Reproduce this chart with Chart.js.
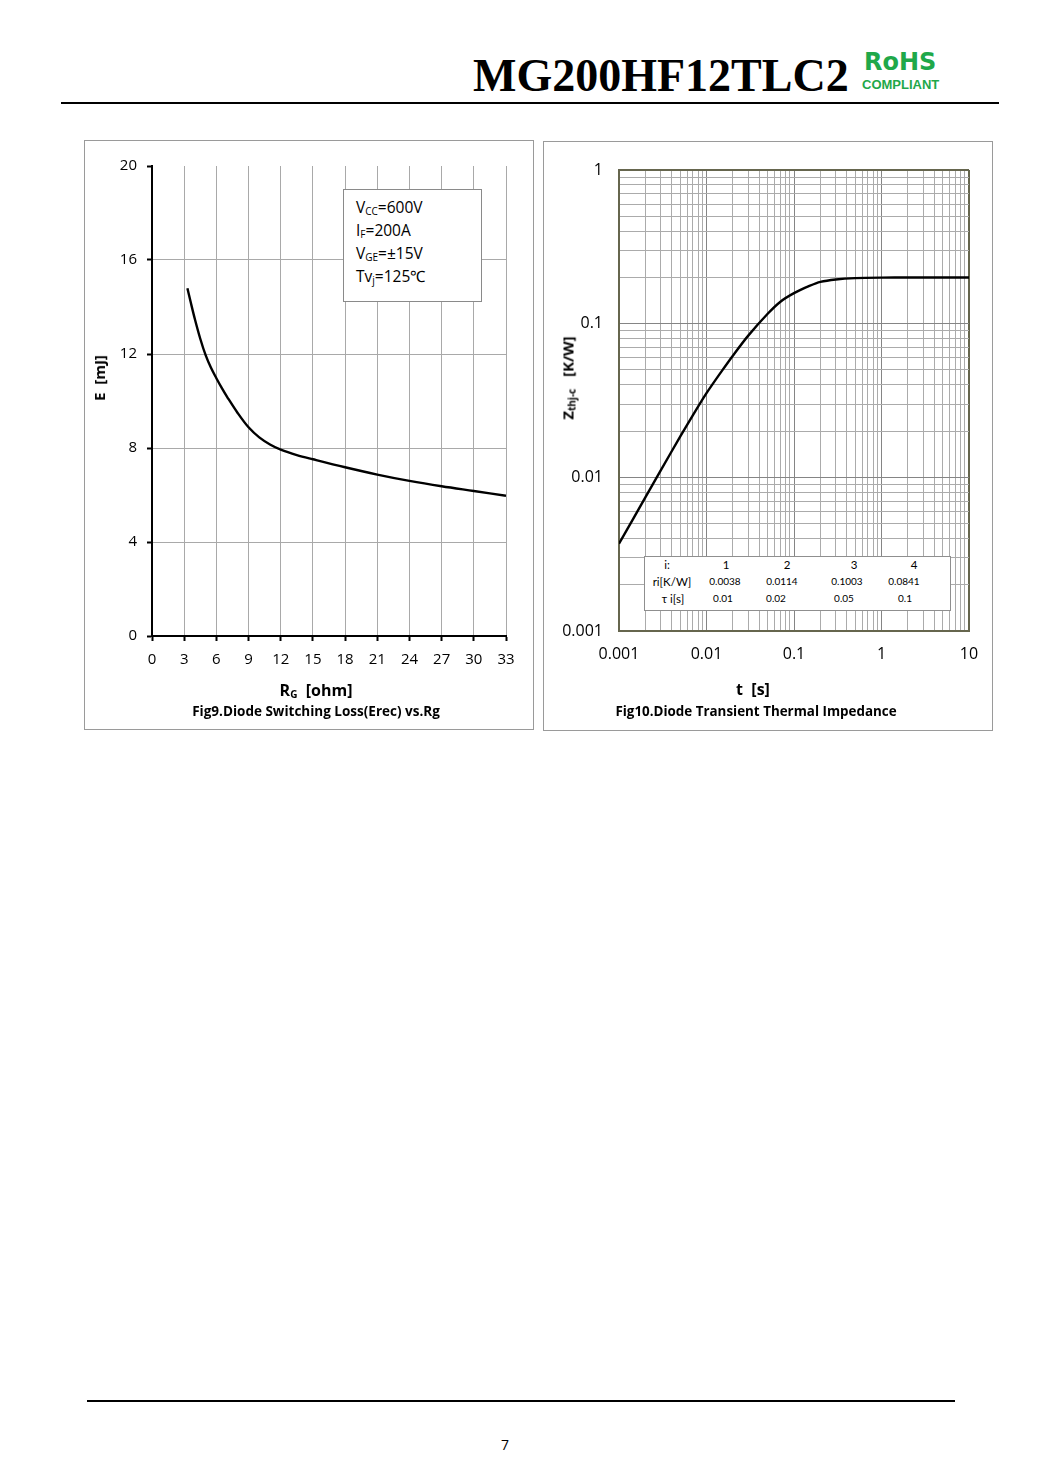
<!DOCTYPE html>
<html>
<head>
<meta charset="utf-8">
<script src="https://cdn.jsdelivr.net/npm/chart.js@4.4.1/dist/chart.umd.min.js"></script>
<style>
body { margin: 0; background: #fff; }
#page { position: relative; width: 1060px; height: 1484px; background: #fff; overflow: hidden;
        font-family: "Open Sans", Lato, sans-serif; color: #000; }
.abs { position: absolute; }
.panel { position: absolute; border: 1px solid #9a9a9a; box-sizing: border-box; }
.c { position: absolute; transform: translate(-50%, -50%); white-space: pre; }
.rot { transform: translate(-50%, -50%) rotate(-90deg); }
.sb { font-size: 10px; vertical-align: -2px; }
.lg { position: absolute; left: 356px; font-size: 15.5px; line-height: 18px; white-space: nowrap; }
.tb { font-family: Lato, sans-serif; font-size: 10px; }
.tb.h { font-size: 11.5px; }
canvas { position: absolute; }
</style>
</head>
<body>
<div id="page">
  <div class="abs" style="left:473px;top:53px;font:bold 46px 'Liberation Serif','Times New Roman',serif;line-height:1;">MG200HF12TLC2</div>
  <div class="abs" style="left:864px;top:50px;font:bold 24px 'DejaVu Sans',sans-serif;line-height:1;color:#1fa84a;">RoHS</div>
  <div class="abs" style="left:862px;top:78px;font:bold 13px 'Liberation Sans',Arial,sans-serif;line-height:1;color:#1fa84a;">COMPLIANT</div>
  <div class="abs" style="left:61px;top:102px;width:938px;height:2px;background:#000;"></div>

  <div class="panel" style="left:84px;top:140px;width:450px;height:590px;"></div>
  <div class="panel" style="left:543px;top:141px;width:450px;height:590px;"></div>

  <canvas id="lossChart" width="450" height="590" style="left:84px;top:140px;"></canvas>
  <canvas id="zthChart" width="449" height="590" style="left:544px;top:141px;"></canvas>

  <!-- left chart texts -->
  <div class="abs" style="left:343px;top:189px;width:139px;height:113px;border:1px solid #8a8a8a;background:#fff;box-sizing:border-box;"></div>
  <div class="lg" style="top:198px;">V<span class="sb">CC</span>=600V</div>
  <div class="lg" style="top:221px;">I<span class="sb">F</span>=200A</div>
  <div class="lg" style="top:244px;">V<span class="sb">GE</span>=±15V</div>
  <div class="lg" style="top:267px;">Tv<span class="sb">j</span>=125℃</div>
  <div class="c rot" style="left:99px;top:378px;font-weight:bold;font-size:15px;">E  [mJ]</div>
  <div class="c" style="left:316px;top:690px;font-weight:bold;font-size:16px;">R<span class="sb">G</span>  [ohm]</div>
  <div class="c" style="left:316px;top:711px;font-weight:bold;font-size:13.5px;">Fig9.Diode Switching Loss(Erec) vs.Rg</div>

  <!-- right chart texts -->
  <div class="c rot" style="left:568px;top:378px;font-weight:bold;font-size:15px;">Z<span class="sb">thj-c</span>   [K/W]</div>
  <div class="c" style="left:753px;top:689px;font-weight:bold;font-size:16px;">t  [s]</div>
  <div class="c" style="left:756px;top:711px;font-weight:bold;font-size:13.4px;">Fig10.Diode Transient Thermal Impedance</div>
  <div id="rcTable" class="abs" style="left:644px;top:556px;width:307px;height:55px;border:1px solid #8f8f8f;background:#fff;box-sizing:border-box;"></div>

  <div class="abs" style="left:87px;top:1400px;width:868px;height:2px;background:#000;"></div>
  <div class="c" style="left:505px;top:1444px;font-size:14px;">7</div>
</div>

<script>
// Fig9: Erec vs Rg
const rgValues = [3.3, 3.6, 4, 4.5, 5, 5.5, 6, 6.5, 7, 8, 9, 10, 11, 12, 13.5, 15, 18, 21, 24, 27, 30, 33];
const erecValues = [14.8, 14.22, 13.48, 12.65, 11.95, 11.41, 10.97, 10.56, 10.18, 9.48, 8.88, 8.45, 8.15, 7.93, 7.7, 7.52, 7.18, 6.87, 6.6, 6.37, 6.17, 5.97];

// Fig10: Zth vs t
const tValues = [0.001, 0.002, 0.003, 0.005, 0.007, 0.01, 0.015, 0.02, 0.03, 0.05, 0.07, 0.1, 0.15, 0.2, 0.3, 0.5, 1, 2, 5, 10];
const zthValues = [0.0037, 0.0074, 0.0111, 0.0184, 0.0254, 0.0353, 0.0493, 0.0619, 0.0836, 0.116, 0.139, 0.158, 0.176, 0.187, 0.194, 0.198, 0.1995, 0.1996, 0.1996, 0.1996];

const xTickValuesZ = [0.001, 0.01, 0.1, 1, 10];
const xTickLabelsZ = ['0.001', '0.01', '0.1', '1', '10'];
const yTickValuesZ = [0.001, 0.01, 0.1, 1];
const yTickLabelsZ = ['0.001', '0.01', '0.1', '1'];

// table in Fig10
const tableIndex = ['1', '2', '3', '4'];
const tableRi = ['0.0038', '0.0114', '0.1003', '0.0841'];
const tableTau = ['0.01', '0.02', '0.05', '0.1'];

const tickFont = { family: 'Open Sans', size: 15 };
const clear = 'rgba(0,0,0,0)';

new Chart(document.getElementById('lossChart'), {
    type: 'line',
    data: {
        datasets: [{
            data: rgValues.map((x, i) => ({ x: x, y: erecValues[i] })),
            borderColor: '#000',
            borderWidth: 2.4,
            pointRadius: 0,
            tension: 0.35
        }]
    },
    options: {
        responsive: false,
        animation: false,
        layout: { padding: { top: 26, right: 28, left: 0, bottom: 0 } },
        plugins: { legend: { display: false }, tooltip: { enabled: false } },
        scales: {
            x: {
                type: 'linear', min: 0, max: 33,
                afterFit: s => { s.height = 94; },
                ticks: { stepSize: 3, autoSkip: false, maxRotation: 0, padding: 10, color: '#000', font: tickFont },
                grid: {
                    color: c => (c.tick && c.tick.value === 0) ? clear : '#a9a9a9',
                    tickColor: '#000', tickLength: 5, tickWidth: 2
                },
                border: { display: true, color: '#000', width: 2 }
            },
            y: {
                type: 'linear', min: 0, max: 20,
                afterFit: s => { s.width = 68; },
                ticks: { stepSize: 4, padding: 10, color: '#000', font: tickFont },
                grid: {
                    color: c => (c.tick && (c.tick.value === 0 || c.tick.value === 20)) ? clear : '#a9a9a9',
                    tickColor: '#000', tickLength: 5, tickWidth: 2
                },
                border: { display: true, color: '#000', width: 2 }
            }
        }
    }
});

// log grid: 1..9 in every decade
function logGrid(e0, e1) {
    const out = [];
    for (let e = e0; e < e1; e++) {
        for (let m = 1; m <= 9; m++) out.push(Number((m * Math.pow(10, e)).toPrecision(3)));
    }
    out.push(Math.pow(10, e1));
    return out;
}
function isDecade(v) {
    const l = Math.log10(v);
    return Math.abs(l - Math.round(l)) < 1e-9;
}
function tickLabel(v, vals, labels) {
    const i = vals.findIndex(t => Math.abs(t - v) / t < 1e-6);
    return i >= 0 ? labels[i] : '';
}
const borderCol = '#66664e';

new Chart(document.getElementById('zthChart'), {
    type: 'line',
    data: {
        datasets: [{
            data: tValues.map((x, i) => ({ x: x, y: zthValues[i] })),
            borderColor: '#000',
            borderWidth: 2.4,
            pointRadius: 0,
            tension: 0.3
        }]
    },
    options: {
        responsive: false,
        animation: false,
        layout: { padding: { top: 29, right: 24, left: 0, bottom: 0 } },
        plugins: { legend: { display: false }, tooltip: { enabled: false } },
        scales: {
            x: {
                type: 'logarithmic', min: 0.001, max: 10,
                afterBuildTicks: s => { s.ticks = logGrid(-3, 1).map(v => ({ value: v })); },
                afterFit: s => { s.height = 100; },
                ticks: {
                    autoSkip: false, maxRotation: 0, padding: 14, color: '#000',
                    font: { family: 'Open Sans', size: 16 },
                    callback: v => tickLabel(v, xTickValuesZ, xTickLabelsZ)
                },
                grid: {
                    drawTicks: false,
                    color: c => c.tick.value >= 10 ? borderCol : (isDecade(c.tick.value) ? '#858585' : '#ababab'),
                    lineWidth: c => c.tick.value >= 10 ? 2 : 1
                },
                border: { display: true, color: borderCol, width: 2 }
            },
            y: {
                type: 'logarithmic', min: 0.001, max: 1,
                afterBuildTicks: s => { s.ticks = logGrid(-3, 0).map(v => ({ value: v })); },
                afterFit: s => { s.width = 75; },
                ticks: {
                    autoSkip: false, padding: 16, color: '#000',
                    font: { family: 'Open Sans', size: 16 },
                    callback: v => tickLabel(v, yTickValuesZ, yTickLabelsZ)
                },
                grid: {
                    drawTicks: false,
                    color: c => c.tick.value >= 1 ? borderCol : (isDecade(c.tick.value) ? '#858585' : '#ababab'),
                    lineWidth: c => c.tick.value >= 1 ? 2 : 1
                },
                border: { display: true, color: borderCol, width: 2 }
            }
        }
    }
});

// table cells
const page = document.getElementById('page');
function cell(txt, x, y, cls) {
    const d = document.createElement('div');
    d.className = 'c tb ' + (cls || '');
    d.style.left = x + 'px';
    d.style.top = y + 'px';
    d.textContent = txt;
    page.appendChild(d);
}
cell('i:', 667, 564, 'h');
cell('ri[K/W]', 672, 581, 'h');
cell('τ i[s]', 673, 598, 'h');
const hx = [726, 787, 854, 914];
const rx = [725, 782, 847, 904];
const tx = [723, 776, 844, 905];
tableIndex.forEach((t, i) => cell(t, hx[i], 564, 'h'));
tableRi.forEach((t, i) => cell(t, rx[i], 581));
tableTau.forEach((t, i) => cell(t, tx[i], 598));
</script>
</body>
</html>
